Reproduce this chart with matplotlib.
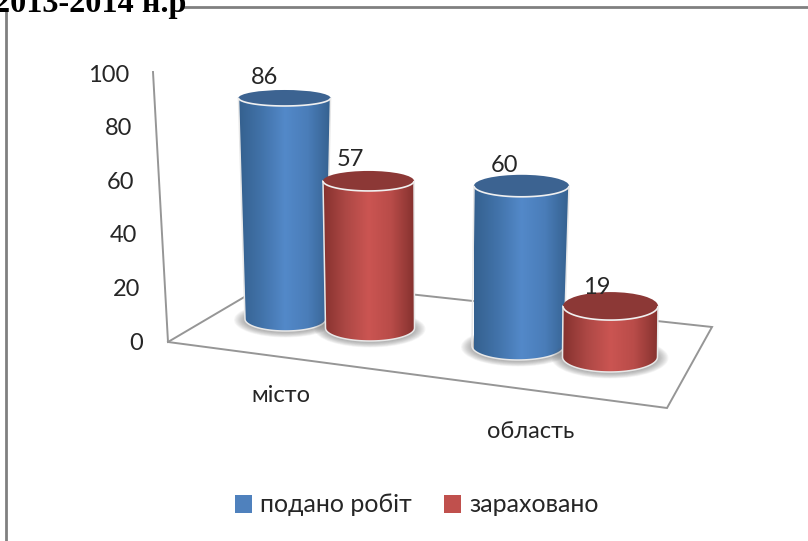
import numpy as np
import matplotlib
matplotlib.use('Agg')
from matplotlib import pyplot as plt
from matplotlib.colors import LinearSegmentedColormap
from matplotlib.patches import Patch, PathPatch, Polygon, Ellipse
from matplotlib.path import Path

# Data
TITLE = "2013-2014 н.р"
categories = ["місто", "область"]
series_names = ["подано робіт", "зараховано"]
submitted = [86, 60]
credited = [57, 19]
axis_ticks = [0, 20, 40, 60, 80, 100]

# Layout of the fake 3d scene, one entry per cylinder, in pixels
BASE_X = [285.5, 370, 518, 610]
BASE_Y = [319, 328, 346, 357]
TOP_X = [284.5, 368.5, 521.5, 610.5]
UNIT = [2.57, 2.58, 2.67, 2.68]
HALF_TOP = [46, 45.5, 47.5, 47.5]
HALF_BASE = [40.5, 44.5, 46, 47.5]
RY_TOP = [8, 10, 11, 14]
RY_BASE = [12, 13, 14, 15]
LABEL_POS = [(265, 77), (350, 160), (505, 165), (597, 287)]
CATEGORY_POS = [(281, 396), (531, 431)]

BLUE = ['#35618f', '#4273aa', '#5389c9', '#4a7db9', '#35618f']
RED = ['#86322f', '#ad4845', '#cb5552', '#b94c49', '#86322f']
TOP_COLORS = ['#3c6391', '#8c3836']
LINE = '#969696'
TEXT = '#262626'
FONT_SIZE = 17

plt.rcParams['font.family'] = ['Lato', 'DejaVu Sans']

fig = plt.figure(figsize=(8.08, 5.41), dpi=100)
ax = fig.add_axes([0, 0, 1, 1])
ax.axis('off')


def arc(cx, cy, a, b, start, end, n=60):
    t = np.radians(np.linspace(start, end, n))
    return np.column_stack([cx + a * np.cos(t), cy + b * np.sin(t)])


def cylinder(i, value, colors, top_color):
    (bx, by, tx) = (BASE_X[i], BASE_Y[i], TOP_X[i])
    ty = by - value * UNIT[i]
    (ha, hb) = (HALF_TOP[i], HALF_BASE[i])
    (rt, rb) = (RY_TOP[i], RY_BASE[i])

    # soft floor shadow
    for grow in np.linspace(22, 2, 12):
        ax.add_patch(Ellipse((bx, by + 1), 2 * hb + grow, 2 * rb + grow * .5,
                             fc='#666666', ec='none', alpha=.05, zorder=2 + i))

    outline = np.vstack([
        [[tx - ha, ty]],
        arc(bx, by, hb, rb, 180, 0),
        [[tx + ha, ty]],
    ])
    body = Polygon(outline, closed=True, fc='none', ec='#e8e8e8', lw=1.1,
                   zorder=3 + i)
    ax.add_patch(body)
    cmap = LinearSegmentedColormap.from_list('c', colors)
    img = ax.imshow(np.linspace(0, 1, 128).reshape(1, -1), cmap=cmap,
                    extent=[tx - ha, tx + ha, by + rb, ty], aspect='auto',
                    zorder=2.9 + i)
    img.set_clip_path(body)
    ax.add_patch(Ellipse((tx, ty), 2 * ha, 2 * rt, fc=top_color, ec='none',
                         zorder=3 + i))
    rim = Path(arc(tx, ty, ha, rt, 180, 0))
    ax.add_patch(PathPatch(rim, fc='none', ec='#f0f0f0', lw=1.2, zorder=3 + i))


# Frame and cut-off title
ax.plot([6, 6], [10, 541], color='#808080', lw=2, zorder=1)
ax.plot([184, 808], [7, 7], color='#808080', lw=2, zorder=1)
ax.text(-6, 12, TITLE, family='Liberation Serif', fontweight='bold',
        fontsize=23.2, color='black', va='baseline', ha='left', zorder=10)

# Floor and back axis
ax.plot([153, 168, 667, 712, 280], [72, 342, 408, 327, 280], color=LINE,
        lw=1.4, zorder=1, solid_joinstyle='miter')
ax.plot([168, 280], [342, 276], color=LINE, lw=1.4, zorder=1)

# Axis tick labels
for tick in axis_ticks:
    ax.text(143 - .14 * tick, 343 - 2.68 * tick, str(tick), ha='right',
            va='center', fontsize=FONT_SIZE, color=TEXT, zorder=10)

# Cylinders, back to front
values = [submitted[0], credited[0], submitted[1], credited[1]]
for i, value in enumerate(values):
    kind = i % 2
    cylinder(i, value, RED if kind else BLUE, TOP_COLORS[kind])
    ax.text(LABEL_POS[i][0], LABEL_POS[i][1], str(value), ha='center',
            va='center', fontsize=FONT_SIZE, color=TEXT, zorder=10)

for name, pos in zip(categories, CATEGORY_POS):
    ax.text(pos[0], pos[1], name, ha='center', va='center',
            fontsize=FONT_SIZE, color=TEXT, zorder=10)

handles = [Patch(fc='#4f81bd', ec='none'), Patch(fc='#c0504d', ec='none')]
ax.legend(handles, series_names, ncol=2, loc='center', frameon=False,
          bbox_to_anchor=(417, 505), bbox_transform=ax.transData,
          fontsize=18, labelcolor=TEXT, handlelength=.66, handleheight=.7,
          handletextpad=.33, columnspacing=1.3)

ax.set_xlim(0, 808)
ax.set_ylim(541, 0)

fig.savefig('out.png', dpi=100)
